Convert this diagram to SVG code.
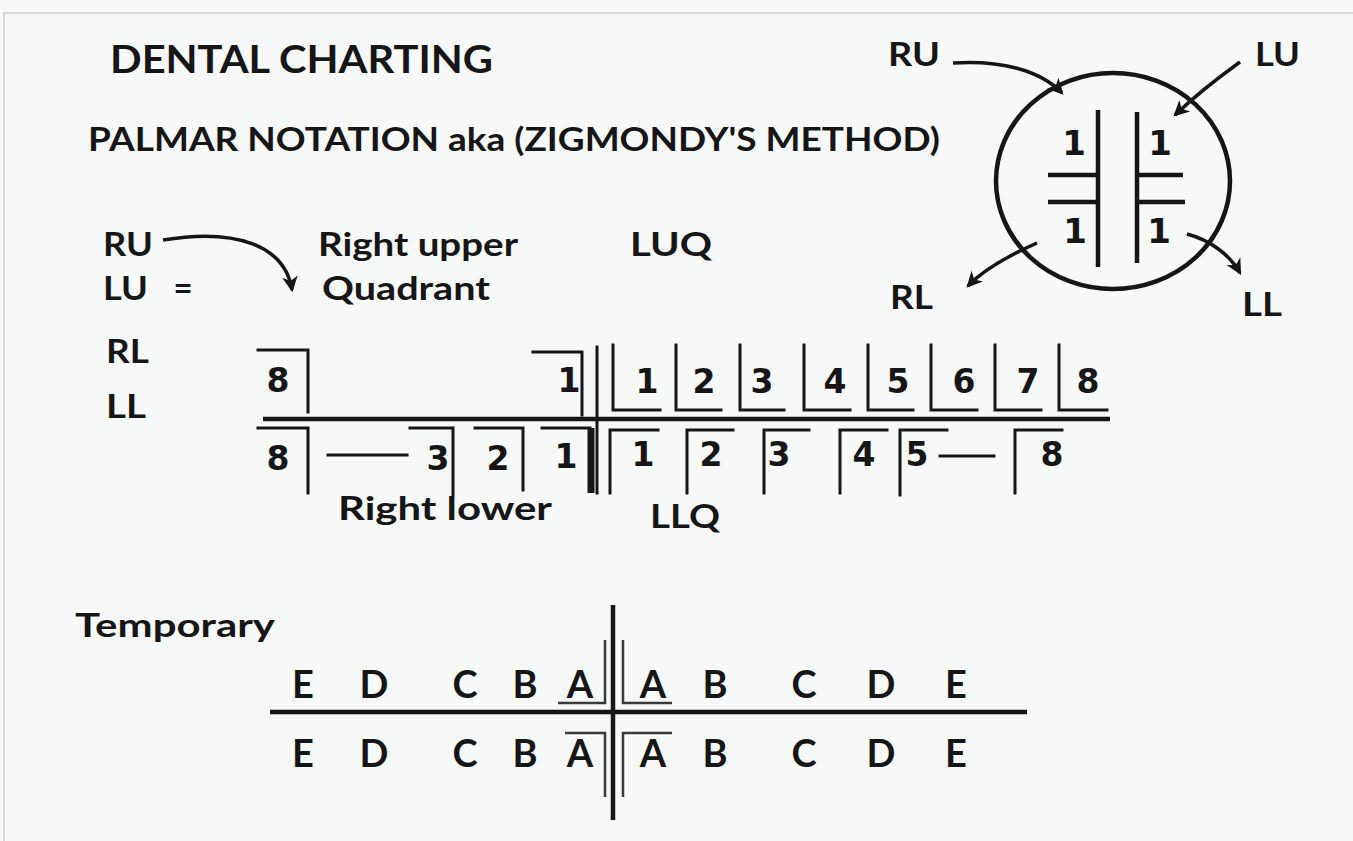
<svg xmlns="http://www.w3.org/2000/svg" width="1353" height="841" viewBox="0 0 1353 841">
  <style>
    .t { font-family: Lato, "Noto Sans", "DejaVu Sans", sans-serif; font-weight: 700; fill: #161616; }
    .d { font-family: "DejaVu Sans", "Noto Sans", sans-serif; font-weight: 700; fill: #161616; font-size: 33px; text-anchor: middle; }
    .c1 { font-family: "DejaVu Sans", sans-serif; font-weight: 700; fill: #161616; font-size: 34px; text-anchor: middle; }
    .ln { stroke: #161616; stroke-width: 3; fill: none; stroke-linecap: square; }
    .bar { stroke: #161616; stroke-width: 4.5; fill: none; }
    .thin { stroke: #3a3a3a; stroke-width: 2.5; fill: none; }
    .arr { stroke: #161616; stroke-width: 3.5; fill: none; marker-end: url(#ah); }
    .ltr { font-family: Lato, "Noto Sans", sans-serif; font-weight: 700; fill: #161616; font-size: 38px; text-anchor: middle; }
  </style>
  <defs>
    <marker id="ah" viewBox="0 0 16 16" refX="13" refY="8" markerWidth="18" markerHeight="18" markerUnits="userSpaceOnUse" orient="auto">
      <path d="M1,1 L15,8 L1,15 L5,8 z" fill="#161616"/>
    </marker>
  </defs>

  <!-- page -->
  <rect x="0" y="0" width="1353" height="841" fill="#f7f8f8"/>
  <path d="M4,841 V13 H1353" stroke="#d6dada" stroke-width="2" fill="none"/>

  <!-- headings -->
  <g id="title">
    <text class="t" x="110" y="73" font-size="39" textLength="383" lengthAdjust="spacingAndGlyphs">DENTAL CHARTING</text>
    <text class="t" x="88" y="151" font-size="33" textLength="852" lengthAdjust="spacingAndGlyphs">PALMAR NOTATION aka (ZIGMONDY'S METHOD)</text>
  </g>

  <!-- quadrant circle -->
  <g id="quadrant-circle">
    <ellipse cx="1113" cy="181" rx="117" ry="108" class="bar"/>
    <path class="bar" d="M1098,110 V267 M1137,112 V263 M1048,175 H1098 M1137,175 H1183 M1048,202 H1098 M1137,202 H1185"/>
    <text class="c1" x="1074" y="155">1</text>
    <text class="c1" x="1160" y="155">1</text>
    <text class="c1" x="1075" y="243">1</text>
    <text class="c1" x="1159" y="243">1</text>
  </g>
  <g id="circle-labels">
    <text class="t" x="888" y="66" font-size="33" textLength="52" lengthAdjust="spacingAndGlyphs">RU</text>
    <text class="t" x="1255" y="66" font-size="33" textLength="45" lengthAdjust="spacingAndGlyphs">LU</text>
    <text class="t" x="890" y="309" font-size="33" textLength="43" lengthAdjust="spacingAndGlyphs">RL</text>
    <text class="t" x="1242" y="316" font-size="33" textLength="40" lengthAdjust="spacingAndGlyphs">LL</text>
  </g>

  <!-- legend -->
  <g id="legend">
    <text class="t" x="103" y="256" font-size="33" textLength="50" lengthAdjust="spacingAndGlyphs">RU</text>
    <text class="t" x="103" y="300" font-size="33" textLength="45" lengthAdjust="spacingAndGlyphs">LU</text>
    <text class="t" x="183" y="300" font-size="33" text-anchor="middle">=</text>
    <text class="t" x="106" y="363" font-size="33" textLength="43" lengthAdjust="spacingAndGlyphs">RL</text>
    <text class="t" x="106" y="418" font-size="33" textLength="40" lengthAdjust="spacingAndGlyphs">LL</text>
    <text class="t" x="318" y="256" font-size="33" textLength="200" lengthAdjust="spacingAndGlyphs">Right upper</text>
    <text class="t" x="322" y="300" font-size="33" textLength="168" lengthAdjust="spacingAndGlyphs">Quadrant</text>
    <text class="t" x="630" y="256" font-size="33" textLength="82" lengthAdjust="spacingAndGlyphs">LUQ</text>
  </g>

  <!-- connectors -->
  <g id="connectors">
    <path class="arr" d="M163,240 C235,228 285,245 292,290"/>
    <path class="arr" d="M953,63 C1000,60 1040,70 1062,93"/>
    <path class="arr" d="M1240,62 C1215,80 1195,96 1175,115"/>
    <path class="arr" d="M1037,243 C1010,255 985,268 968,286"/>
    <path class="arr" d="M1187,234 C1210,240 1230,255 1240,273"/>
  </g>

  <!-- permanent dentition chart -->
  <g id="permanent-chart">
    <path class="bar" d="M263,419 H1110"/>
    <path class="ln" d="M597,347 V493"/>
    <!-- right upper -->
    <path class="ln" d="M258,350 H308 V412"/>
    <text class="d" x="278" y="392">8</text>
    <path class="ln" d="M533,352 H582 V415"/>
    <text class="d" x="569" y="392">1</text>
    <!-- left upper -->
    <path class="ln" d="M613,345 V410 H660 M676,345 V410 H721 M740,345 V410 H784 M804,345 V410 H850 M868,345 V410 H913 M931,345 V410 H977 M995,345 V410 H1041 M1059,345 V410 H1107"/>
    <text class="d" x="647" y="393">1</text>
    <text class="d" x="704" y="393">2</text>
    <text class="d" x="762" y="393">3</text>
    <text class="d" x="835" y="393">4</text>
    <text class="d" x="898" y="393">5</text>
    <text class="d" x="964" y="393">6</text>
    <text class="d" x="1028" y="393">7</text>
    <text class="d" x="1088" y="393">8</text>
    <!-- right lower -->
    <path class="ln" d="M258,428 H308 V493"/>
    <text class="d" x="278" y="470">8</text>
    <path class="ln" d="M328,455 H407"/>
    <path class="ln" d="M410,428 H453 V495"/>
    <text class="d" x="438" y="470">3</text>
    <path class="ln" d="M475,428 H523 V490"/>
    <text class="d" x="498" y="470">2</text>
    <path class="ln" d="M542,428 H590"/>
    <path d="M591,428 V493" stroke="#161616" stroke-width="7"/>
    <text class="d" x="566" y="468">1</text>
    <!-- left lower -->
    <path class="ln" d="M658,430 H610 V493 M733,430 H687 V493 M809,430 H764 V493 M887,430 H840 V493 M947,430 H900 V495 M1062,430 H1015 V493"/>
    <text class="d" x="643" y="466">1</text>
    <text class="d" x="711" y="466">2</text>
    <text class="d" x="779" y="466">3</text>
    <text class="d" x="864" y="466">4</text>
    <text class="d" x="917" y="466">5</text>
    <path class="ln" d="M940,456 H994"/>
    <text class="d" x="1052" y="466">8</text>
    <text class="t" x="338" y="520" font-size="33" textLength="214" lengthAdjust="spacingAndGlyphs">Right lower</text>
    <text class="t" x="650" y="528" font-size="33" textLength="70" lengthAdjust="spacingAndGlyphs">LLQ</text>
  </g>

  <!-- temporary dentition chart -->
  <g id="temporary-chart">
    <text class="t" x="75" y="637" font-size="33" textLength="200" lengthAdjust="spacingAndGlyphs">Temporary</text>
    <path class="bar" d="M270,712 H1027 M613,605 V820"/>
    <path class="thin" d="M558,703 H605 V640 M672,703 H623 V640 M565,733 H605 V797 M672,733 H623 V797"/>
    <g>
      <text class="ltr" x="303" y="698">E</text>
      <text class="ltr" x="374" y="698">D</text>
      <text class="ltr" x="465" y="698">C</text>
      <text class="ltr" x="525" y="698">B</text>
      <text class="ltr" x="580" y="698">A</text>
      <text class="ltr" x="653" y="698">A</text>
      <text class="ltr" x="715" y="698">B</text>
      <text class="ltr" x="804" y="698">C</text>
      <text class="ltr" x="881" y="698">D</text>
      <text class="ltr" x="956" y="698">E</text>
    </g>
    <g>
      <text class="ltr" x="303" y="767">E</text>
      <text class="ltr" x="374" y="767">D</text>
      <text class="ltr" x="465" y="767">C</text>
      <text class="ltr" x="525" y="767">B</text>
      <text class="ltr" x="580" y="767">A</text>
      <text class="ltr" x="653" y="767">A</text>
      <text class="ltr" x="715" y="767">B</text>
      <text class="ltr" x="804" y="767">C</text>
      <text class="ltr" x="881" y="767">D</text>
      <text class="ltr" x="956" y="767">E</text>
    </g>
  </g>
</svg>
